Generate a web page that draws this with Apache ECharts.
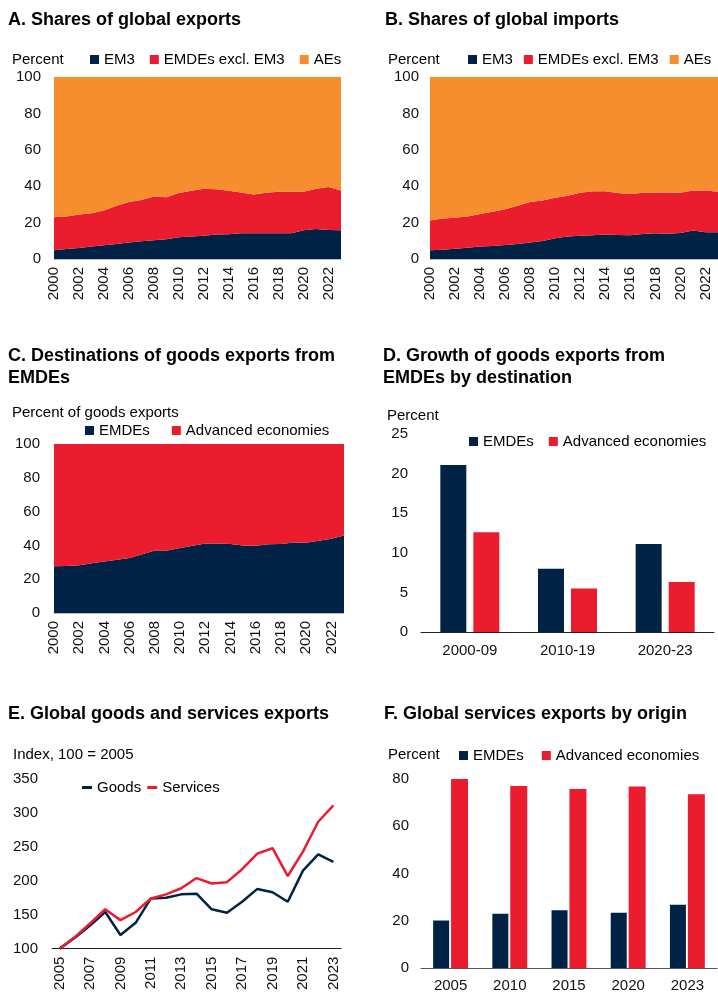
<!DOCTYPE html>
<html>
<head>
<meta charset="utf-8">
<script src="https://cdn.jsdelivr.net/npm/echarts@6/dist/echarts.min.js"></script>
<style>
html,body{margin:0;padding:0;background:#fff;}
#chart{width:718px;height:993px;}
</style>
</head>
<body>
<div id="chart"></div>
<script>
// ---------- DATA ----------
const years00 = ['2000','2001','2002','2003','2004','2005','2006','2007','2008','2009','2010','2011','2012','2013','2014','2015','2016','2017','2018','2019','2020','2021','2022','2023'];

// Panel A: shares of global exports (percent)
const expEM3   = [4.8,5.5,6.0,6.8,7.5,8.2,9.0,9.7,10.3,10.8,11.9,12.3,12.8,13.4,13.6,14.1,14.1,14.1,14.1,14.1,15.8,16.5,15.9,15.8];
const expEMDEx = [18.1,17.9,18.4,18.3,19.1,21.1,22.3,22.7,24.1,23.1,24.4,25.2,25.8,24.9,23.9,22.5,21.4,22.3,22.9,22.9,21.2,22.1,23.7,21.9];
const expAEs   = [77.1,76.6,75.6,74.9,73.4,70.7,68.7,67.6,65.6,66.1,63.7,62.5,61.4,61.7,62.5,63.4,64.5,63.6,63.0,63.0,63.0,61.4,60.4,62.3];

// Panel B: shares of global imports (percent)
const impEM3   = [4.8,5.1,5.7,6.2,6.8,7.1,7.7,8.2,9.0,9.9,11.4,12.3,12.8,13.0,13.4,13.2,13.0,13.7,14.1,13.9,14.3,15.6,14.7,14.7];
const impEMDEx = [16.4,17.1,17.0,17.1,17.9,18.9,19.6,21.1,22.3,22.3,22.3,22.5,23.6,24.2,23.8,23.1,22.7,22.7,22.5,22.7,22.1,22.1,23.0,22.3];
const impAEs   = [78.8,77.8,77.3,76.7,75.3,74.0,72.7,70.7,68.7,67.8,66.3,65.2,63.6,62.8,62.8,63.7,64.3,63.6,63.4,63.4,63.6,62.3,62.3,63.0];

// Panel C: destinations of goods exports from EMDEs (percent of goods exports)
const destEMDE = [27.6,27.8,28.3,29.5,30.5,31.5,32.5,34.8,37.0,37.0,38.4,39.8,41.1,41.1,40.9,40.0,39.8,40.7,40.9,41.7,41.5,42.7,43.9,45.9];
const destAE   = [72.4,72.2,71.7,70.5,69.5,68.5,67.5,65.2,63.0,63.0,61.6,60.2,58.9,58.9,59.1,60.0,60.2,59.3,59.1,58.3,58.5,57.3,56.1,54.1];

// Panel D: growth of goods exports from EMDEs by destination (percent)
const periodsD = ['2000-09','2010-19','2020-23'];
const growthEMDE = [21.1,8.0,11.1];
const growthAE   = [12.6,5.5,6.3];

// Panel E: global goods and services exports (index, 2005 = 100)
const yearsE = ['2005','2006','2007','2008','2009','2010','2011','2012','2013','2014','2015','2016','2017','2018','2019','2020','2021','2022','2023'];
const goodsIdx    = [100,116,134,154,120,138,174,175,180,181,158,153,169,188,183,169,215,239,228];
const servicesIdx = [100,117,137,158,142,154,174,180,189,204,196,198,217,240,248,207,243,287,311];

// Panel F: global services exports by origin (percent)
const yearsF = ['2005','2010','2015','2020','2023'];
const svcEMDE = [20.1,23.0,24.4,23.4,26.8];
const svcAE   = [80.0,77.0,75.8,76.8,73.5];

// ---------- STYLE ----------
const NAVY = '#002345', RED = '#EB1C2D', ORANGE = '#F68D2E';
const FF = '"Liberation Sans", Arial, Helvetica, sans-serif';
const FS = 15;
const lbl = {fontSize:FS, color:'#111', fontFamily:FF};

function txt(text, x, y, bold, size){
  return {type:'text', x:x, y:y, silent:true,
    style:{text:text, fill:'#000', verticalAlign:'middle', align:'left',
      font:(bold?'bold ':'') + (size||FS) + 'px ' + FF}};
}

const grids = [
  {left:54,  top:77,  width:287, height:182},  // A
  {left:430, top:77,  width:288, height:182},  // B
  {left:54,  top:444, width:290, height:169},  // C
  {left:421, top:434, width:293, height:198},  // D
  {left:52,  top:779, width:289, height:170},  // E
  {left:421, top:779, width:296, height:190}   // F
];

function yearAxis(gi){
  return {type:'category', gridIndex:gi, data:years00, boundaryGap:false,
    axisLine:{show:true, lineStyle:{color:'#bdbdbd', width:1}}, axisTick:{show:false},
    axisLabel:Object.assign({rotate:90, interval:1, margin:8}, lbl)};
}
function pctAxis(gi, max, interval, margin, min){
  return {type:'value', gridIndex:gi, min:(min||0), max:max, interval:interval,
    axisLine:{show:false}, axisTick:{show:false}, splitLine:{show:false},
    axisLabel:Object.assign({margin:margin}, lbl)};
}
function area(name, data, color, gi, stack){
  return {name:name, type:'line', xAxisIndex:gi, yAxisIndex:gi, stack:stack, data:data,
    symbol:'none', lineStyle:{width:0}, areaStyle:{color:color, opacity:1}, itemStyle:{color:color}, z:2};
}
function bar(name, data, color, gi, width, gap){
  return {name:name, type:'bar', xAxisIndex:gi, yAxisIndex:gi, data:data,
    barWidth:width, barGap:gap, itemStyle:{color:color}};
}
function legend(names, left, cy, gap, isLine){
  return {data:names, left:left, top:cy-9, padding:0, itemGap:gap, width:300,
    icon:'rect', itemWidth: isLine?10:9, itemHeight: isLine?3:9,
    textStyle:{fontSize:FS, color:'#000', fontFamily:FF}, selectedMode:false};
}

const option = {
  animation:false,
  backgroundColor:'#fff',
  textStyle:{fontFamily:FF},
  grid:grids,
  xAxis:[
    yearAxis(0), yearAxis(1), yearAxis(2),
    {type:'category', gridIndex:3, data:periodsD,
      axisLine:{lineStyle:{color:'#222'}}, axisTick:{show:false},
      axisLabel:Object.assign({margin:11}, lbl)},
    {type:'category', gridIndex:4, data:yearsE, boundaryGap:true,
      axisLine:{lineStyle:{color:'#222'}}, axisTick:{show:false},
      axisLabel:Object.assign({rotate:90, interval:1, margin:8}, lbl)},
    {type:'category', gridIndex:5, data:yearsF,
      axisLine:{lineStyle:{color:'#555'}}, axisTick:{show:false},
      axisLabel:Object.assign({margin:10}, lbl)}
  ],
  yAxis:[
    pctAxis(0,100,20,13), pctAxis(1,100,20,11), pctAxis(2,100,20,14),
    pctAxis(3,25,5,13), pctAxis(4,350,50,14,100), pctAxis(5,80,20,12)
  ],
  legend:[
    legend(['EM3','EMDEs excl. EM3','AEs'], 90, 61, 15),
    legend(['EM3','EMDEs excl. EM3','AEs'], 468, 61, 11),
    legend(['EMDEs','Advanced economies'], 85, 432, 22),
    legend(['EMDEs','Advanced economies'], 469, 443, 15),
    legend(['Goods','Services'], 82, 789, 6, true),
    legend(['EMDEs','Advanced economies'], 459, 757, 18)
  ],
  graphic:[
    txt('A. Shares of global exports', 8, 20, true, 18),
    txt('B. Shares of global imports', 385, 20, true, 18),
    txt('C. Destinations of goods exports from', 8, 356, true, 18),
    txt('EMDEs', 8, 378, true, 18),
    txt('D. Growth of goods exports from', 383, 356, true, 18),
    txt('EMDEs by destination', 383, 378, true, 18),
    txt('E. Global goods and services exports', 8, 714, true, 18),
    txt('F. Global services exports by origin', 384, 714, true, 18),
    txt('Percent', 12, 60),
    txt('Percent', 388, 60),
    txt('Percent of goods exports', 12, 413),
    txt('Percent', 387, 416),
    txt('Index, 100 = 2005', 13, 755),
    txt('Percent', 388, 755)
  ],
  series:[
    area('EM3', expEM3, NAVY, 0, 'a'),
    area('EMDEs excl. EM3', expEMDEx, RED, 0, 'a'),
    area('AEs', expAEs, ORANGE, 0, 'a'),
    area('EM3', impEM3, NAVY, 1, 'b'),
    area('EMDEs excl. EM3', impEMDEx, RED, 1, 'b'),
    area('AEs', impAEs, ORANGE, 1, 'b'),
    area('EMDEs', destEMDE, NAVY, 2, 'c'),
    area('Advanced economies', destAE, RED, 2, 'c'),
    bar('EMDEs', growthEMDE, NAVY, 3, 26, '27%'),
    bar('Advanced economies', growthAE, RED, 3, 26, '27%'),
    {name:'Goods', type:'line', xAxisIndex:4, yAxisIndex:4, data:goodsIdx, symbol:'none',
      lineStyle:{color:NAVY, width:2.5}, itemStyle:{color:NAVY}},
    {name:'Services', type:'line', xAxisIndex:4, yAxisIndex:4, data:servicesIdx, symbol:'none',
      lineStyle:{color:RED, width:2.5}, itemStyle:{color:RED}},
    bar('EMDEs', svcEMDE, NAVY, 5, 16, '12%'),
    bar('Advanced economies', svcAE, RED, 5, 17, '12%')
  ]
};

const chart = echarts.init(document.getElementById('chart'), null, {renderer:'canvas', width:718, height:993});
chart.setOption(option);
</script>
</body>
</html>
